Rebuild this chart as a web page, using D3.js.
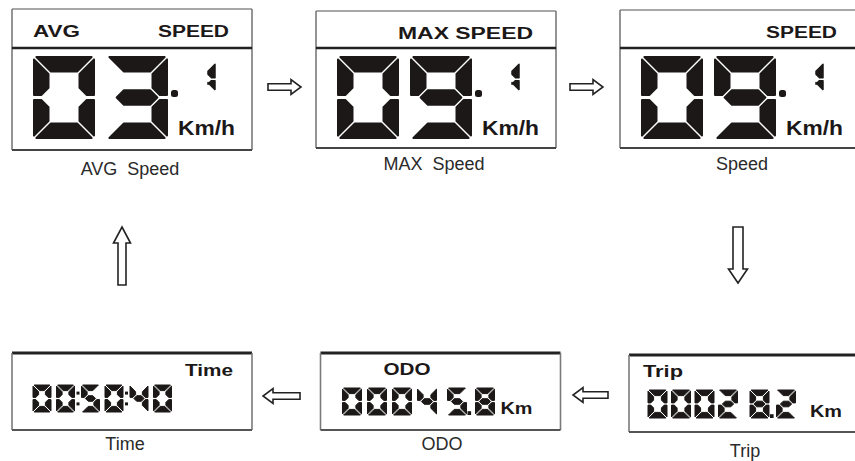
<!DOCTYPE html>
<html>
<head>
<meta charset="utf-8">
<script src="https://cdn.jsdelivr.net/npm/d3@7"></script>
<style>
  html,body{margin:0;padding:0;background:#fff;}
  svg{display:block;}
</style>
</head>
<body>
<svg id="chart" width="855" height="461"></svg>
<script>
// ---------- data ----------
const topHeaderLeft  = ["AVG", "", ""];
const topHeaderRight = ["SPEED", "MAX SPEED", "SPEED"];
const topValues      = ["03.1", "09.1", "09.1"];
const topUnits       = ["Km/h", "Km/h", "Km/h"];
const topCaptions    = ["AVG\u00a0\u00a0Speed", "MAX\u00a0\u00a0Speed", "Speed"];

const bottomHeaders  = ["Time", "ODO", "Trip"];
const bottomValues   = ["00:50:40", "00045.8", "00028.2"];
const bottomUnits    = ["", "Km", "Km"];
const bottomCaptions = ["Time", "ODO", "Trip"];

// ---------- layout ----------
const svg = d3.select("#chart");
const INK = "#1c1818";
const xTop = d3.scaleLinear().domain([0, 2]).range([12, 620]);
const xBot = d3.scaleLinear().domain([0, 2]).range([12, 629]);
const topBox = { w: 240, tops: [9, 11, 10], div: 48, bottoms: [150, 148, 148] };
const botBox = { w: 240, tops: [353, 353, 355], bottoms: [430, 430, 432] };

const SEGMAP = {0:"abcdef",1:"bc",2:"abged",3:"abgcd",4:"fgbc",5:"afgcd",6:"afgedc",7:"abc",8:"abcdefg",9:"abcdfg"};

function segments(x, y, w, h, t, g, ymr) {
  const ym = y + h * (ymr == null ? 0.5 : ymr);
  return {
    a: [[x+g,y],[x+w-g,y],[x+w-t-g,y+t],[x+t+g,y+t]],
    d: [[x+t+g,y+h-t],[x+w-t-g,y+h-t],[x+w-g,y+h],[x+g,y+h]],
    f: [[x,y+g],[x+t,y+t+g],[x+t,ym-t/2-g],[x+t/2,ym-g],[x,ym-g]],
    b: [[x+w,y+g],[x+w,ym-g],[x+w-t/2,ym-g],[x+w-t,ym-t/2-g],[x+w-t,y+t+g]],
    e: [[x,ym+g],[x+t/2,ym+g],[x+t,ym+t/2+g],[x+t,y+h-t-g],[x,y+h-g]],
    c: [[x+w,ym+g],[x+w,y+h-g],[x+w-t,y+h-t-g],[x+w-t,ym+t/2+g],[x+w-t/2,ym+g]],
    g: [[x+t/2+g,ym],[x+t+g,ym-t/2],[x+w-t-g,ym-t/2],[x+w-t/2-g,ym],[x+w-t-g,ym+t/2],[x+t+g,ym+t/2]]
  };
}

const line = d3.line();
function drawDigit(gp, ch, x, y, w, h, t, g, sw, ymr) {
  const s = segments(x, y, w, h, t, g, ymr);
  const on = (SEGMAP[ch] || "").split("");
  gp.selectAll(null).data(on).enter().append("path")
    .attr("d", k => line(s[k]) + "Z")
    .attr("fill", INK).attr("stroke", INK)
    .attr("stroke-width", sw).attr("stroke-linejoin", "round");
}

function arrowH(x0, x1, yc, dir) {
  const hl = 10, sh = 3.2, hh = 7.5;
  let pts;
  if (dir > 0) {
    pts = [[x0,yc-sh],[x1-hl,yc-sh],[x1-hl,yc-hh],[x1,yc],[x1-hl,yc+hh],[x1-hl,yc+sh],[x0,yc+sh]];
  } else {
    pts = [[x1,yc-sh],[x0+hl,yc-sh],[x0+hl,yc-hh],[x0,yc],[x0+hl,yc+hh],[x0+hl,yc+sh],[x1,yc+sh]];
  }
  svg.append("path").attr("d", line(pts) + "Z")
    .attr("fill", "#fff").attr("stroke", "#222").attr("stroke-width", 1.6)
    .attr("stroke-linejoin", "miter");
}
function arrowV(xc, y0, y1, dir) {
  let pts;
  if (dir < 0) {
    const hl = 16, sh = 4, hh = 8.5;
    pts = [[xc,y0],[xc+hh,y0+hl],[xc+sh,y0+hl],[xc+sh,y1],[xc-sh,y1],[xc-sh,y0+hl],[xc-hh,y0+hl]];
  } else {
    const hl = 14, sh = 5, hh = 9.5;
    pts = [[xc-sh,y0],[xc+sh,y0],[xc+sh,y1-hl],[xc+hh,y1-hl],[xc,y1],[xc-hh,y1-hl],[xc-sh,y1-hl]];
  }
  svg.append("path").attr("d", line(pts) + "Z")
    .attr("fill", "#fff").attr("stroke", "#222").attr("stroke-width", 1.6)
    .attr("stroke-linejoin", "miter");
}

// ---------- top panels ----------
topValues.forEach((val, i) => {
  const x = xTop(i), top = topBox.tops[i], bot = topBox.bottoms[i], r = x + topBox.w;
  const gp = svg.append("g");
  gp.append("line").attr("x1", x).attr("x2", r).attr("y1", top).attr("y2", top)
    .attr("stroke", "#8a8a8a").attr("stroke-width", 1.6);
  gp.append("line").attr("x1", x).attr("x2", x).attr("y1", top).attr("y2", bot)
    .attr("stroke", "#7a7a7a").attr("stroke-width", 1.6);
  gp.append("line").attr("x1", r).attr("x2", r).attr("y1", top).attr("y2", bot)
    .attr("stroke", "#7a7a7a").attr("stroke-width", 1.6);
  gp.append("line").attr("x1", x).attr("x2", r).attr("y1", topBox.div).attr("y2", topBox.div)
    .attr("stroke", "#222").attr("stroke-width", 2.6);
  gp.append("line").attr("x1", x).attr("x2", r).attr("y1", bot).attr("y2", bot)
    .attr("stroke", "#444").attr("stroke-width", 2);

  const hb = top + 28;
  if (topHeaderLeft[i]) {
    gp.append("text").attr("x", x + 21).attr("y", hb).text(topHeaderLeft[i])
      .attr("font-family", "Liberation Sans, Arial, sans-serif").attr("font-weight", "bold")
      .attr("font-size", 16).attr("fill", INK)
      .attr("textLength", 47).attr("lengthAdjust", "spacingAndGlyphs");
  }
  const rw = topHeaderRight[i].length > 6 ? 135 : 71;
  gp.append("text").attr("x", x + 217 - rw).attr("y", hb).text(topHeaderRight[i])
    .attr("font-family", "Liberation Sans, Arial, sans-serif").attr("font-weight", "bold")
    .attr("font-size", 16).attr("fill", INK)
    .attr("textLength", rw).attr("lengthAdjust", "spacingAndGlyphs");

  const [intPart, decPart] = val.split(".");
  intPart.split("").forEach((ch, k) => {
    drawDigit(gp, ch, x + 22 + k * 73, 57, 60, 81, 14.5, 2.4, 2, 0.5);
  });
  gp.append("rect").attr("x", x + 159).attr("y", 90).attr("width", 7).attr("height", 7)
    .attr("rx", 2.5).attr("fill", INK);
  decPart.split("").forEach((ch) => {
    drawDigit(gp, ch, x + 187, 63, 16, 28, 7, 1.4, 1.5, 0.58);
  });
  gp.append("text").attr("x", x + 166).attr("y", 135).text(topUnits[i])
    .attr("font-family", "Liberation Sans, Arial, sans-serif").attr("font-weight", "bold")
    .attr("font-size", 20).attr("fill", INK)
    .attr("textLength", 57).attr("lengthAdjust", "spacingAndGlyphs");

  const capY = i === 0 ? 175 : 170;
  const capX = [130, 434, 742][i];
  svg.append("text").attr("x", capX).attr("y", capY).attr("text-anchor", "middle")
    .text(topCaptions[i])
    .attr("font-family", "Liberation Sans, Arial, sans-serif").attr("font-size", 18)
    .attr("fill", "#2a2a2a");
});

// ---------- bottom panels ----------
const botDigit = [
  { start: 21, adv: 23.5, dw: 18, y: 385, h: 27, colon: 1.5, extra: {} },
  { start: 22, adv: 25,   dw: 19, y: 388, h: 27, colon: 0, extra: {4: 5} },
  { start: 19, adv: 23.5, dw: 19, y: 390, h: 28, colon: 0, extra: {4: 8} }
];
const botHeaderX = [{x: 185, w: 48}, {x: 63, w: 47}, {x: 14, w: 40}];
const botHeaderY = [376, 375, 377];

bottomValues.forEach((val, i) => {
  const x = xBot(i), top = botBox.tops[i], bot = botBox.bottoms[i], r = x + botBox.w;
  const gp = svg.append("g");
  gp.append("line").attr("x1", x).attr("x2", r).attr("y1", top).attr("y2", top)
    .attr("stroke", "#222").attr("stroke-width", 2.8);
  gp.append("line").attr("x1", x).attr("x2", x).attr("y1", top).attr("y2", bot)
    .attr("stroke", "#7a7a7a").attr("stroke-width", 1.6);
  gp.append("line").attr("x1", r).attr("x2", r).attr("y1", top).attr("y2", bot)
    .attr("stroke", "#7a7a7a").attr("stroke-width", 1.6);
  gp.append("line").attr("x1", x).attr("x2", r).attr("y1", bot).attr("y2", bot)
    .attr("stroke", "#555").attr("stroke-width", 2);

  const hx = i === 0 ? botHeaderX[0].x : x + botHeaderX[i].x;
  gp.append("text").attr("x", hx).attr("y", botHeaderY[i]).text(bottomHeaders[i])
    .attr("font-family", "Liberation Sans, Arial, sans-serif").attr("font-weight", "bold")
    .attr("font-size", 17).attr("fill", INK)
    .attr("textLength", botHeaderX[i].w).attr("lengthAdjust", "spacingAndGlyphs");

  const L = botDigit[i];
  let di = 0, cx = x + L.start;
  val.split("").forEach((ch) => {
    if (ch === ":") {
      const mx = cx - (L.adv - L.dw) / 2 + L.colon / 2;
      [0.3, 0.7].forEach(f => {
        gp.append("rect").attr("x", mx - 1.5).attr("y", L.y + L.h * f - 1.5)
          .attr("width", 3).attr("height", 3).attr("fill", INK);
      });
      cx += L.colon;
      return;
    }
    if (ch === ".") {
      const px = cx - (L.adv - L.dw) + 1;
      gp.append("rect").attr("x", px).attr("y", L.y + L.h - 3.8)
        .attr("width", 3.6).attr("height", 3.8).attr("fill", INK);
      cx += 3;
      return;
    }
    if (L.extra[di]) cx += L.extra[di];
    drawDigit(gp, ch, cx, L.y, L.dw, L.h, 5.6, 1.1, 1, 0.5);
    cx += L.adv;
    di++;
  });

  if (bottomUnits[i]) {
    gp.append("text").attr("x", x + [0, 180, 181][i]).attr("y", L.y + L.h - 1.5).text(bottomUnits[i])
      .attr("font-family", "Liberation Sans, Arial, sans-serif").attr("font-weight", "bold")
      .attr("font-size", 17).attr("fill", INK)
      .attr("textLength", 32).attr("lengthAdjust", "spacingAndGlyphs");
  }

  svg.append("text").attr("x", [125, 442, 745][i]).attr("y", [450, 450, 457][i])
    .attr("text-anchor", "middle").text(bottomCaptions[i])
    .attr("font-family", "Liberation Sans, Arial, sans-serif").attr("font-size", 18)
    .attr("fill", "#2a2a2a");
});

// ---------- arrows ----------
arrowH(268, 301, 87, 1);
arrowH(570, 603, 87, 1);
arrowV(122, 227, 285, -1);
arrowV(738, 227, 283, 1);
arrowH(263, 300, 396, -1);
arrowH(573, 608, 395, -1);
</script>
</body>
</html>
